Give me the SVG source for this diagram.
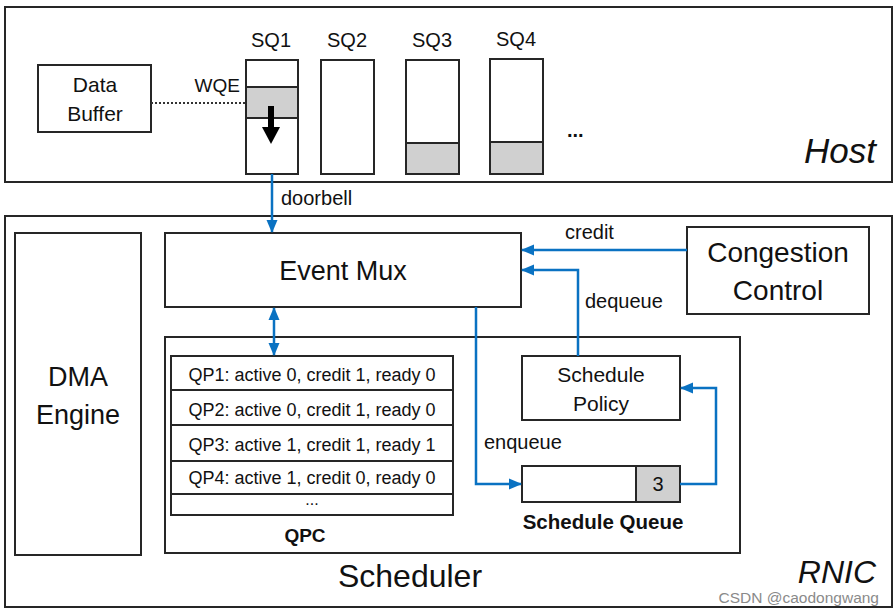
<svg xmlns="http://www.w3.org/2000/svg" width="896" height="613" viewBox="0 0 896 613">
<style>
.box{fill:#fff;stroke:#262626;stroke-width:2}
.gray{fill:#d0d0d0;stroke:#262626;stroke-width:2}
.t{font-family:"Liberation Sans",Arial,sans-serif;fill:#111}
.c{text-anchor:middle}
.b{font-weight:bold}
.i{font-style:italic}
.wire{fill:none;stroke:#0a72c2;stroke-width:2.5}
</style>
<defs>
<marker id="ah" markerUnits="userSpaceOnUse" markerWidth="13" markerHeight="13" viewBox="0 0 13 13" refX="12" refY="6.5" orient="auto-start-reverse">
<path d="M0,1 L13,6.5 L0,12 z" fill="#0a72c2"/>
</marker>
</defs>
<rect width="896" height="613" fill="#fff"/>

<g id="host">
<rect class="box" x="5" y="7" width="887" height="175"/>
<text class="t i" x="876" y="163" font-size="35" text-anchor="end">Host</text>
</g>
<g id="data-buffer">
<rect class="box" x="38" y="65" width="113" height="67"/>
<text class="t c" x="95" y="92" font-size="21">Data</text>
<text class="t c" x="95" y="121" font-size="21">Buffer</text>
</g>
<g id="sq1">
<text class="t c" x="271" y="47" font-size="20">SQ1</text>
<rect class="box" x="246" y="60" width="52" height="114"/>
<rect class="gray" x="246" y="87" width="52" height="31"/>
<text class="t" x="240" y="92" font-size="19" text-anchor="end">WQE</text>
<rect x="268" y="106" width="6" height="22" fill="#000"/>
<path d="M262,127 L280,127 L271,144 z" fill="#000"/>
</g>
<g id="sq2">
<text class="t c" x="347" y="47" font-size="20">SQ2</text>
<rect class="box" x="321" y="60" width="53" height="114"/>
</g>
<g id="sq3">
<text class="t c" x="432" y="47" font-size="20">SQ3</text>
<rect class="box" x="406" y="60" width="53" height="114"/>
<rect class="gray" x="406" y="143" width="53" height="31"/>
</g>
<g id="sq4">
<text class="t c" x="516" y="46" font-size="20">SQ4</text>
<rect class="box" x="490" y="59" width="53" height="115"/>
<rect class="gray" x="490" y="142" width="53" height="32"/>
</g>
<text class="t b" x="567" y="137" font-size="20">...</text>

<g id="rnic">
<rect class="box" x="5" y="216" width="887" height="391"/>
<text class="t i" x="876" y="583" font-size="32" text-anchor="end">RNIC</text>
</g>
<g id="dma-engine">
<rect class="box" x="15" y="233" width="126" height="322"/>
<text class="t c" x="78" y="386" font-size="27">DMA</text>
<text class="t c" x="78" y="424" font-size="27">Engine</text>
</g>
<g id="event-mux">
<rect class="box" x="165" y="233" width="356" height="74"/>
<text class="t c" x="343" y="280" font-size="27">Event Mux</text>
</g>
<g id="congestion-control">
<rect class="box" x="687" y="227" width="182" height="87"/>
<text class="t c" x="778" y="262" font-size="28">Congestion</text>
<text class="t c" x="778" y="300" font-size="28">Control</text>
</g>
<g id="scheduler">
<rect class="box" x="165" y="337" width="575" height="216"/>
<text class="t c" x="410" y="587" font-size="32">Scheduler</text>
</g>
<g id="qpc">
<rect class="box" x="171" y="356" width="282" height="159"/>
<line x1="171" y1="390" x2="453" y2="390" stroke="#262626" stroke-width="2"/>
<line x1="171" y1="425" x2="453" y2="425" stroke="#262626" stroke-width="2"/>
<line x1="171" y1="461" x2="453" y2="461" stroke="#262626" stroke-width="2"/>
<line x1="171" y1="494" x2="453" y2="494" stroke="#262626" stroke-width="2"/>
<text class="t c" x="312" y="381" font-size="18">QP1: active 0, credit 1, ready 0</text>
<text class="t c" x="312" y="416" font-size="18">QP2: active 0, credit 1, ready 0</text>
<text class="t c" x="312" y="451" font-size="18">QP3: active 1, credit 1, ready 1</text>
<text class="t c" x="312" y="484" font-size="18">QP4: active 1, credit 0, ready 0</text>
<text class="t c" x="312" y="505" font-size="16">...</text>
<text class="t c b" x="305" y="542" font-size="19">QPC</text>
</g>
<g id="schedule-policy">
<rect class="box" x="522" y="356" width="158" height="64"/>
<text class="t c" x="601" y="382" font-size="21">Schedule</text>
<text class="t c" x="601" y="411" font-size="21">Policy</text>
</g>
<g id="schedule-queue">
<rect class="box" x="522" y="466" width="158" height="36"/>
<rect class="gray" x="636" y="466" width="44" height="36"/>
<text class="t c" x="658" y="491" font-size="20">3</text>
<text class="t c b" x="603" y="529" font-size="20.5">Schedule Queue</text>
</g>

<g id="connectors">
<line x1="151" y1="103" x2="246" y2="103" stroke="#333" stroke-width="2" stroke-dasharray="2,2"/>
<line class="wire" x1="272" y1="174" x2="272" y2="232" marker-end="url(#ah)"/>
<text class="t" x="281" y="205" font-size="20">doorbell</text>
<line class="wire" x1="274" y1="308" x2="274" y2="355" marker-start="url(#ah)" marker-end="url(#ah)"/>
<line class="wire" x1="687" y1="250" x2="522" y2="250" marker-end="url(#ah)"/>
<text class="t" x="565" y="239" font-size="20">credit</text>
<polyline class="wire" points="578,356 578,270 522,270" marker-end="url(#ah)"/>
<text class="t" x="585" y="308" font-size="20">dequeue</text>
<polyline class="wire" points="476,307 476,484 521,484" marker-end="url(#ah)"/>
<text class="t" x="484" y="449" font-size="20">enqueue</text>
<polyline class="wire" points="680,484 716,484 716,388 681,388" marker-end="url(#ah)"/>
</g>
<text x="879" y="603" font-family="'Liberation Sans',Arial,sans-serif" font-size="15.5" fill="#8a8a8a" text-anchor="end">CSDN @caodongwang</text>
</svg>
